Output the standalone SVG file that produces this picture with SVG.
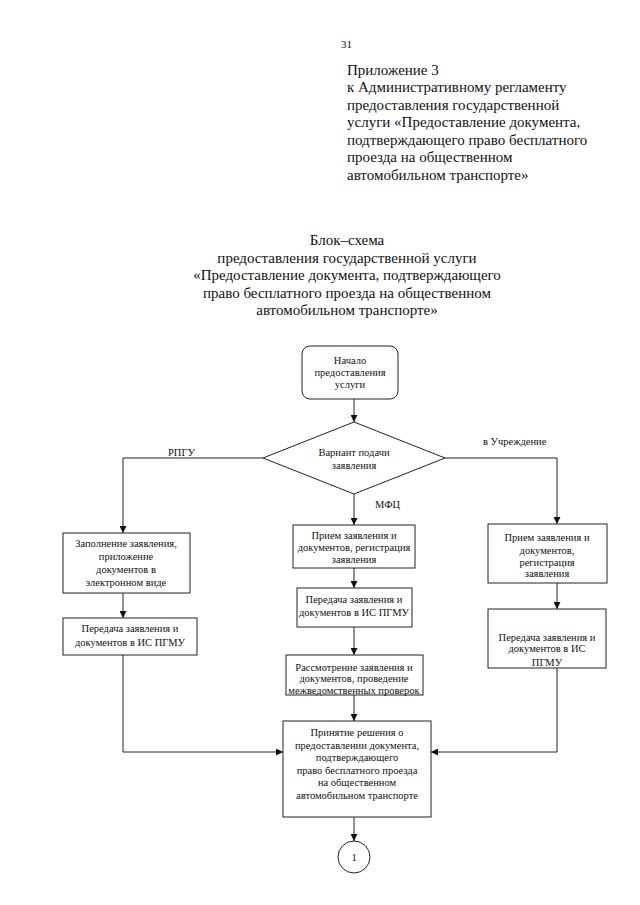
<svg xmlns="http://www.w3.org/2000/svg" width="640" height="905" viewBox="0 0 640 905">
<style>
.hd{font-family:"Liberation Serif",serif;font-size:15px;fill:#111}
.pg{font-family:"Liberation Serif",serif;font-size:11px;fill:#111}
.t{font-family:"Liberation Serif",serif;font-size:10.5px;fill:#111;text-anchor:middle}
.lb{font-family:"Liberation Serif",serif;font-size:10.5px;fill:#111}
.box{fill:#fff;stroke:#222;stroke-width:1}
.ln{fill:none;stroke:#222;stroke-width:1}
</style>
<defs>
<marker id="ah" viewBox="0 0 10 10" refX="10" refY="5" markerWidth="7" markerHeight="7" orient="auto" markerUnits="userSpaceOnUse">
<path d="M0,0 L10,5 L0,10 z" fill="#111"/>
</marker>
</defs>
<rect width="640" height="905" fill="#fff"/>
<text class="pg" x="341" y="48">31</text>
<g id="header">
<text class="hd" x="347" y="75">Приложение 3</text>
<text class="hd" x="347" y="92">к Административному регламенту</text>
<text class="hd" x="347" y="110">предоставления государственной</text>
<text class="hd" x="347" y="127">услуги «Предоставление документа,</text>
<text class="hd" x="347" y="145">подтверждающего право бесплатного</text>
<text class="hd" x="347" y="162">проезда на общественном</text>
<text class="hd" x="347" y="180">автомобильном транспорте»</text>
</g>
<g id="title" text-anchor="middle">
<text class="hd" x="347" y="245">Блок–схема</text>
<text class="hd" x="347" y="263">предоставления государственной услуги</text>
<text class="hd" x="347" y="280">«Предоставление документа, подтверждающего</text>
<text class="hd" x="347" y="298">право бесплатного проезда на общественном</text>
<text class="hd" x="347" y="315">автомобильном транспорте»</text>
</g>
<g id="connectors">
<line class="ln" x1="354" y1="399" x2="354" y2="422" marker-end="url(#ah)"/>
<polyline class="ln" points="263,458 123,458 123,533" marker-end="url(#ah)"/>
<polyline class="ln" points="445,458 557,458 557,524" marker-end="url(#ah)"/>
<line class="ln" x1="354" y1="494" x2="354" y2="525" marker-end="url(#ah)"/>
<line class="ln" x1="123" y1="593" x2="123" y2="618" marker-end="url(#ah)"/>
<polyline class="ln" points="123,655 123,752 283,752" marker-end="url(#ah)"/>
<line class="ln" x1="354" y1="568" x2="354" y2="588" marker-end="url(#ah)"/>
<line class="ln" x1="354" y1="627" x2="354" y2="655" marker-end="url(#ah)"/>
<line class="ln" x1="354" y1="695" x2="354" y2="721" marker-end="url(#ah)"/>
<line class="ln" x1="557" y1="583" x2="557" y2="609" marker-end="url(#ah)"/>
<polyline class="ln" points="557,668 557,752 431,752" marker-end="url(#ah)"/>
<line class="ln" x1="354" y1="817" x2="354" y2="841" marker-end="url(#ah)"/>
<text class="lb" x="168" y="456">РПГУ</text>
<text class="lb" x="483" y="445">в Учреждение</text>
<text class="lb" x="375" y="508">МФЦ</text>
</g>
<g id="start">
<rect class="box" x="302" y="346" width="96" height="53" rx="8"/>
<text class="t" x="350" y="364">Начало</text>
<text class="t" x="350" y="376">предоставления</text>
<text class="t" x="350" y="388">услуги</text>
</g>
<g id="decision">
<polygon class="box" points="354,422 445,458 354,494 263,458"/>
<text class="t" x="354" y="456">Вариант подачи</text>
<text class="t" x="354" y="469">заявления</text>
</g>
<g id="left1">
<rect class="box" x="63" y="533" width="127" height="60"/>
<text class="t" x="126" y="547">Заполнение заявления,</text>
<text class="t" x="126" y="560">приложение</text>
<text class="t" x="126" y="573">документов в</text>
<text class="t" x="126" y="586">электронном виде</text>
</g>
<g id="left2">
<rect class="box" x="63" y="618" width="134" height="37"/>
<text class="t" x="130" y="632">Передача заявления и</text>
<text class="t" x="130" y="646">документов в ИС ПГМУ</text>
</g>
<g id="center1">
<rect class="box" x="293" y="525" width="122" height="43"/>
<text class="t" x="354" y="539">Прием заявления и</text>
<text class="t" x="354" y="551">документов, регистрация</text>
<text class="t" x="354" y="563">заявления</text>
</g>
<g id="center2">
<rect class="box" x="297" y="588" width="115" height="39"/>
<text class="t" x="354" y="603">Передача заявления и</text>
<text class="t" x="354" y="616">документов в ИС ПГМУ</text>
</g>
<g id="center3">
<rect class="box" x="286" y="655" width="137" height="40"/>
<text class="t" x="354" y="671">Рассмотрение заявления и</text>
<text class="t" x="354" y="682">документов, проведение</text>
<text class="t" x="354" y="694">межведомственных проверок</text>
</g>
<g id="center4">
<rect class="box" x="283" y="721" width="148" height="96"/>
<text class="t" x="357" y="736">Принятие решения о</text>
<text class="t" x="357" y="749">предоставлении документа,</text>
<text class="t" x="357" y="761">подтверждающего</text>
<text class="t" x="357" y="774">право бесплатного проезда</text>
<text class="t" x="357" y="786">на общественном</text>
<text class="t" x="357" y="799">автомобильном транспорте</text>
</g>
<g id="right1">
<rect class="box" x="488" y="524" width="119" height="59"/>
<text class="t" x="547" y="541">Прием заявления и</text>
<text class="t" x="547" y="554">документов,</text>
<text class="t" x="547" y="566">регистрация</text>
<text class="t" x="547" y="577">заявления</text>
</g>
<g id="right2">
<rect class="box" x="488" y="609" width="118" height="59"/>
<text class="t" x="547" y="641">Передача заявления и</text>
<text class="t" x="547" y="652">документов в ИС</text>
<text class="t" x="547" y="666">ПГМУ</text>
</g>
<g id="connector1">
<circle class="box" cx="354" cy="857" r="16"/>
<text class="t" x="354" y="861">1</text>
</g>
</svg>
